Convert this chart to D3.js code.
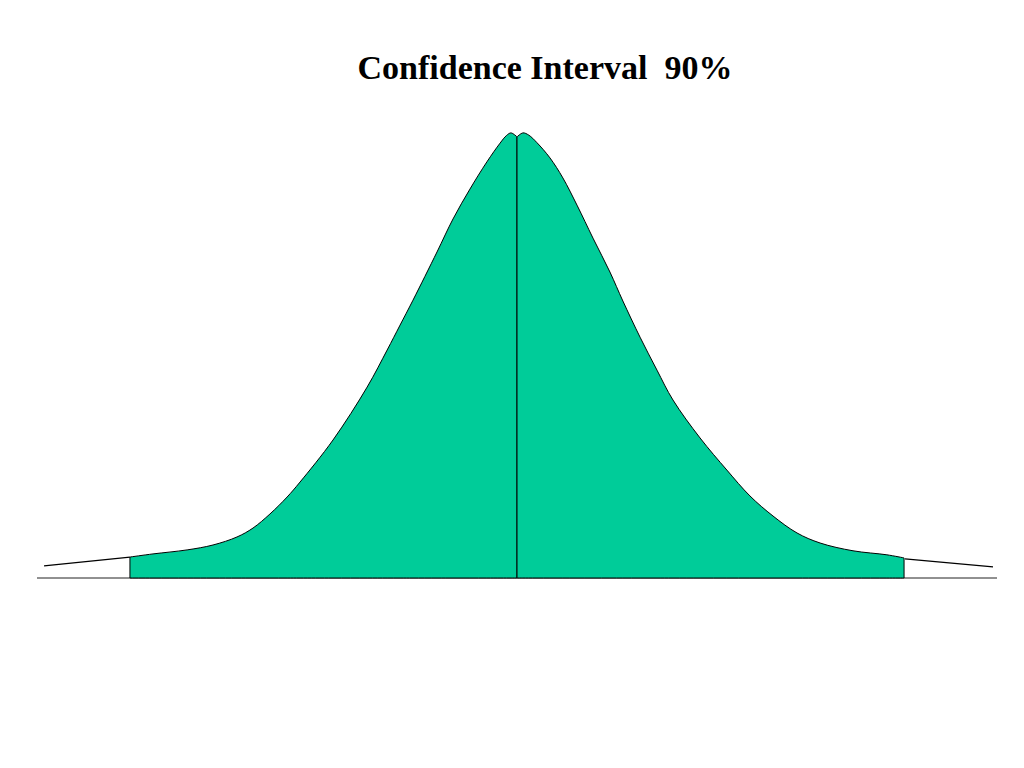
<!DOCTYPE html>
<html>
<head>
<meta charset="utf-8">
<script src="https://cdn.jsdelivr.net/npm/d3@7"></script>
<style>
  html, body { margin: 0; padding: 0; background: #ffffff; }
  svg { display: block; }
</style>
</head>
<body>
<svg id="chart" width="1024" height="768"></svg>
<script>
// ---- data (z = standard deviations, h = density relative to peak) ----
const title = "Confidence Interval\u00a0\u00a090%";
const ciBound = 1.645; // 90% interval

const leftZ = [-1.645, -1.547, -1.402, -1.292, -1.190, -1.122, -1.050, -0.977, -0.922, -0.782, -0.637, -0.552, -0.497, -0.442, -0.340, -0.272, -0.200, -0.128, -0.072, -0.045, -0.025, 0];
const leftH = [0.047, 0.054, 0.063, 0.074, 0.092, 0.112, 0.1435, 0.1816, 0.2152, 0.3094, 0.428, 0.511, 0.567, 0.623, 0.731, 0.805, 0.872, 0.933, 0.975, 0.992, 0.998, 0.989];

const rightZ = [0, 0.025, 0.050, 0.085, 0.140, 0.195, 0.255, 0.323, 0.395, 0.450, 0.523, 0.595, 0.663, 0.778, 0.892, 0.990, 1.088, 1.190, 1.288, 1.428, 1.572, 1.645];
const rightH = [0.989, 0.998, 0.993, 0.976, 0.942, 0.897, 0.836, 0.762, 0.686, 0.621, 0.540, 0.466, 0.399, 0.314, 0.242, 0.184, 0.139, 0.101, 0.0785, 0.061, 0.052, 0.045];

const leftTailZ = [-2.010, -1.645];
const leftTailH = [0.027, 0.047];
const rightTailZ = [1.649, 2.023];
const rightTailH = [0.043, 0.025];

const axisDomain = [-2.04, 2.04];

// ---- drawing ----
const svg = d3.select("#chart");
const x = d3.scaleLinear().domain(axisDomain).range([37, 997]);
const y = d3.scaleLinear().domain([0, 1]).range([578, 132]);

const zip = (zs, hs) => zs.map((z, i) => ({ z, h: hs[i] }));

const area = d3.area()
  .x(d => x(d.z))
  .y0(y(0))
  .y1(d => y(d.h))
  .curve(d3.curveCatmullRom.alpha(0.5));

const line = d3.line()
  .x(d => x(d.z))
  .y(d => y(d.h))
  .curve(d3.curveLinear);

// baseline
svg.append("line")
  .attr("x1", x(axisDomain[0])).attr("x2", x(axisDomain[1]))
  .attr("y1", y(0)).attr("y2", y(0))
  .attr("stroke", "#222").attr("stroke-width", 1);

// filled halves
[zip(leftZ, leftH), zip(rightZ, rightH)].forEach(pts => {
  svg.append("path")
    .datum(pts)
    .attr("d", area)
    .attr("fill", "#00CC99")
    .attr("stroke", "#000")
    .attr("stroke-width", 1)
    .attr("stroke-linejoin", "round");
});

// tails
[zip(leftTailZ, leftTailH), zip(rightTailZ, rightTailH)].forEach(pts => {
  svg.append("path")
    .datum(pts)
    .attr("d", line)
    .attr("fill", "none")
    .attr("stroke", "#000")
    .attr("stroke-width", 1.2);
});

// title
svg.append("text")
  .attr("x", 545)
  .attr("y", 79)
  .attr("text-anchor", "middle")
  .attr("font-family", "'Liberation Serif', 'Times New Roman', serif")
  .attr("font-weight", "bold")
  .attr("font-size", 34)
  .attr("fill", "#000")
  .text(title);
</script>
</body>
</html>
